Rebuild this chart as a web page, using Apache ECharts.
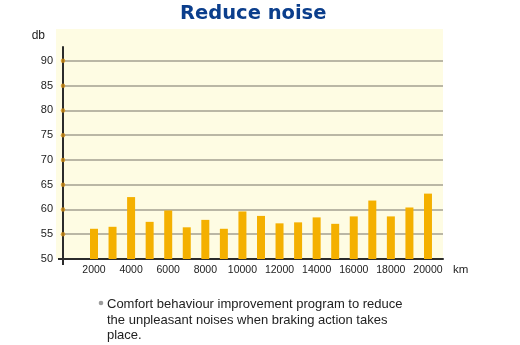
<!DOCTYPE html>
<html>
<head>
<meta charset="utf-8">
<script src="https://cdn.jsdelivr.net/npm/echarts@6/dist/echarts.min.js"></script>
<style>
  html, body { margin: 0; padding: 0; background: #ffffff; }
  #chart { width: 520px; height: 345px; }
</style>
</head>
<body>
<div id="chart"></div>
<script>
// Mileage (km) at which each noise reading was taken
const mileage = [2000, 3000, 4000, 5000, 6000, 7000, 8000, 9000, 10000, 11000,
                 12000, 13000, 14000, 15000, 16000, 17000, 18000, 19000, 20000];
// Measured noise level (dB)
const noiseDb = [56.1, 56.5, 62.5, 57.5, 59.8, 56.4, 57.9, 56.1, 59.6, 58.7,
                 57.2, 57.4, 58.4, 57.1, 58.6, 61.8, 58.6, 60.4, 63.2];
// Labelled ticks
const kmTicks = [2000, 4000, 6000, 8000, 10000, 12000, 14000, 16000, 18000, 20000];
const dbTicks = [50, 55, 60, 65, 70, 75, 80, 85, 90];

const X_MIN = 330, X_MAX = 20810;
const Y_MIN = 50, Y_MAX = 92.8;

const labelFont = 'Liberation Sans, Arial, sans-serif';
const axisColor = '#2b2b2b';

const chart = echarts.init(document.getElementById('chart'), null, { renderer: 'canvas' });

chart.setOption({
  animation: false,
  backgroundColor: '#ffffff',
  title: {
    text: 'Reduce noise',
    left: 175,
    top: -1,
    textStyle: {
      fontFamily: 'DejaVu Sans',
      fontWeight: 'bold',
      fontSize: 19.5,
      color: '#0b3e8c'
    }
  },
  graphic: [
    {
      type: 'rect',
      z: -10,
      silent: true,
      shape: { x: 56, y: 29, width: 387, height: 230 },
      style: { fill: '#fefce3' }
    },
    {
      type: 'circle',
      shape: { cx: 101, cy: 303, r: 2.3 },
      style: { fill: '#9c9c9c' }
    },
    {
      type: 'text',
      left: 107,
      top: 297,
      style: {
        text: 'Comfort behaviour improvement program to reduce\nthe unpleasant noises when braking action takes\nplace.',
        fill: '#222222',
        font: '13px Liberation Sans',
        lineHeight: 15.5
      }
    }
  ],
  grid: { left: 63, right: 77, top: 47, bottom: 86 },
  xAxis: {
    type: 'value',
    min: X_MIN,
    max: X_MAX,
    name: 'km',
    nameLocation: 'end',
    nameGap: 10,
    nameTextStyle: { color: '#222', fontSize: 11.5, fontFamily: labelFont, verticalAlign: 'top', padding: [5, 0, 0, 0] },
    splitLine: { show: false },
    axisLine: { show: true, lineStyle: { color: axisColor, width: 2 } },
    axisTick: {
      show: true,
      customValues: [X_MIN],
      length: 6,
      lineStyle: { color: axisColor, width: 2 }
    },
    axisLabel: {
      customValues: kmTicks,
      formatter: v => String(v),
      margin: 6,
      color: '#222',
      fontSize: 10.5,
      fontFamily: labelFont
    }
  },
  yAxis: [
    {
      // main value axis: labels and horizontal grid lines
      type: 'value',
      min: Y_MIN,
      max: Y_MAX,
      interval: 5,
      name: 'db',
      nameLocation: 'end',
      nameGap: 5,
      nameTextStyle: { color: '#222', fontSize: 12, fontFamily: labelFont, align: 'right', padding: [0, 18, 0, 0] },
      axisLine: { show: true, lineStyle: { color: axisColor, width: 2 } },
      axisTick: { show: false, customValues: dbTicks },
      axisLabel: {
        customValues: dbTicks,
        margin: 10,
        color: '#222',
        fontSize: 11,
        fontFamily: labelFont
      },
      splitLine: {
        show: true,
        showMinLine: false,
        lineStyle: { color: '#a3a190', width: 1.5 }
      }
    },
    {
      // companion axis carrying the short stub left of the origin
      type: 'value',
      position: 'left',
      min: Y_MIN,
      max: Y_MAX,
      axisLine: { show: false },
      axisLabel: { show: false },
      splitLine: { show: false },
      axisTick: {
        show: true,
        customValues: [Y_MIN],
        length: 5,
        lineStyle: { color: axisColor, width: 2 }
      }
    }
  ],
  series: [
    {
      type: 'bar',
      data: mileage.map((km, i) => [km, noiseDb[i]]),
      barWidth: 8,
      itemStyle: { color: '#f4b000' },
      z: 3
    },
    {
      // small markers where grid lines meet the vertical axis
      type: 'scatter',
      data: dbTicks.slice(1).map(v => [X_MIN, v]),
      symbol: 'circle',
      symbolSize: 4.5,
      clip: false,
      itemStyle: { color: '#cc8a12' },
      z: 5
    }
  ]
});
</script>
</body>
</html>
